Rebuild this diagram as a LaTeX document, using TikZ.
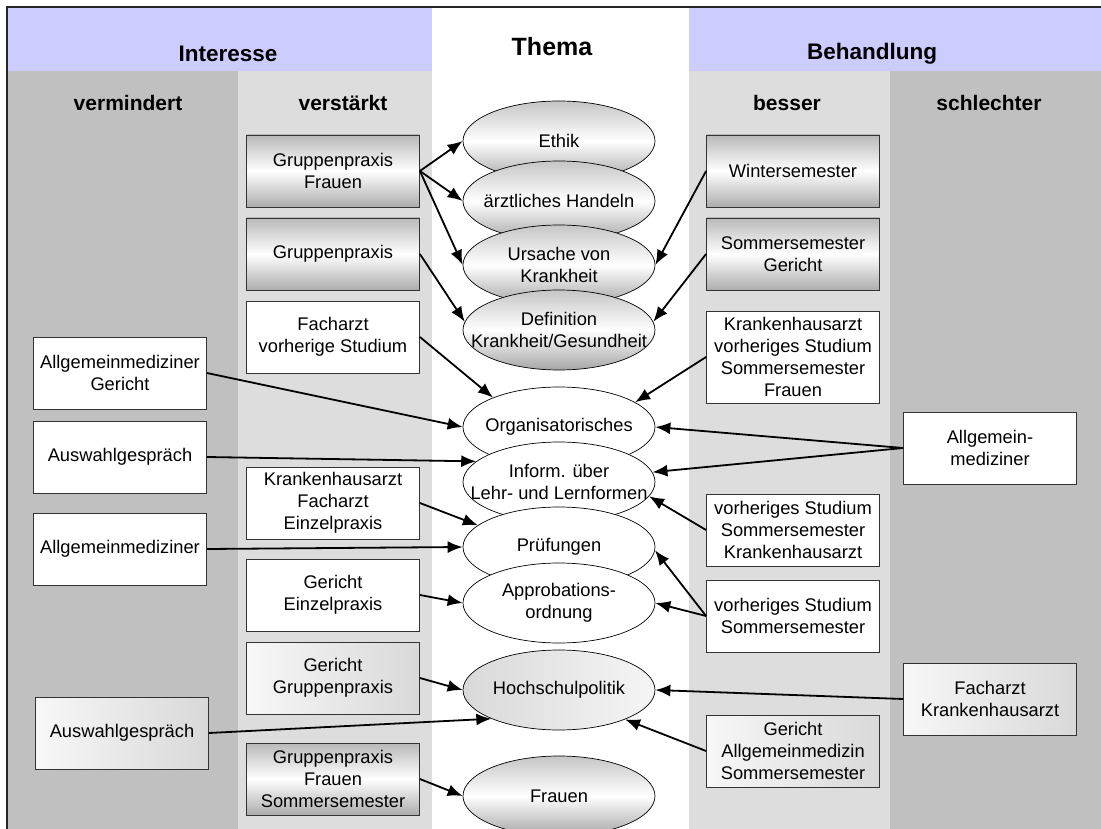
\documentclass[tikz,border=0pt]{standalone}
\usepackage{fontspec}
\setmainfont{Liberation Sans}
\usepackage{tikz}
\usetikzlibrary{arrows.meta}
\usetikzlibrary{shapes.geometric}
\tikzset{>={Latex[length=15pt,width=12pt]}}
\definecolor{band}{HTML}{CCCCFF}
\definecolor{darkcol}{HTML}{C0C0C0}
\definecolor{lightcol}{HTML}{DDDDDD}

\begin{document}
\begin{tikzpicture}[x=1pt, y=-1pt]
            \tikzset{factor/.style={draw=black!80, line width=0.8pt, minimum width=173pt, minimum height=72pt, inner sep=1pt, align=center, font={\fontsize{18.3}{22}\selectfont}}};
            \tikzset{blank/.style={factor, fill=white}};
            \tikzset{shiny/.style={factor, top color=gray!55, bottom color=gray!65, middle color=white}};
            \tikzset{matt/.style={factor, left color=gray!6, right color=gray!30}};
            \tikzset{topic/.style={ellipse, draw, line width=0.7pt, minimum width=192pt, minimum height=80pt, inner sep=0pt, label={[font={\fontsize{18.3}{22}\selectfont}, align=center]center:#1}}};
            \tikzset{tshade/.style={top color=gray!45, bottom color=gray!70, middle color=white}};
            \tikzset{head/.style={font={\bfseries\fontsize{22.5}{27}\selectfont}}};
            \tikzset{sub/.style={font={\bfseries\fontsize{21}{25}\selectfont}}};
            \tikzset{flow/.style={->, line width=1.8pt}};
            \useasboundingbox (0, 0) rectangle (1101, 829);
            % Spalten
            \fill[band] (7, 7) rectangle (432, 71);
            \fill[band] (689, 7) rectangle (1101, 71);
            \fill[darkcol] (7, 71) rectangle (238, 829);
            \fill[lightcol] (238, 71) rectangle (432, 829);
            \fill[lightcol] (689, 71) rectangle (890, 829);
            \fill[darkcol] (890, 71) rectangle (1101, 829);
            \draw[line width=1.6pt, black!85] (1101, 7) -- (7, 7) -- (7, 829);
            \node[head] (interesse) at (228, 54) {Interesse};
            \node[font={\bfseries\fontsize{25}{30}\selectfont}] (thema) at (552, 47) {Thema};
            \node[head] (behandlung) at (872, 54) {Behandlung};
            \node[sub] (vermindert) at (128, 103) {vermindert};
            \node[sub] (verstaerkt) at (343, 103) {verstärkt};
            \node[sub] (besser) at (787, 103) {besser};
            \node[sub] (schlechter) at (989, 103) {schlechter};
            % Themen
            \node[topic=Ethik, tshade] (ethik) at (559, 141) {};
            \node[topic=ärztliches Handeln, tshade] (handeln) at (559, 201) {};
            \node[topic={Ursache von\\Krankheit}, tshade] (ursache) at (559, 265) {};
            \node[topic={Definition\\Krankheit/Gesundheit}, tshade] (definition) at (559, 330) {};
            \node[topic=Organisatorisches, fill=white] (orga) at (559, 427) {};
            \node[topic={Inform. über\\Lehr- und Lernformen}, fill=white] (inform) at (559, 482) {};
            \node[topic=Prüfungen, fill=white] (pruefung) at (559, 547) {};
            \node[topic={Approbations-\\ordnung}, fill=white] (approb) at (559, 603) {};
            \node[topic=Hochschulpolitik, left color=gray!30, right color=gray!8] (politik) at (559, 690) {};
            \node[topic=Frauen, tshade] (frauen) at (559, 796) {};
            % vermindert
            \node[blank] (m1) at (120, 373) {Allgemeinmediziner\\Gericht};
            \node[blank] (m2) at (120, 457) {Auswahlgespräch};
            \node[blank] (m3) at (120, 549) {Allgemeinmediziner};
            \node[matt] (m4) at (122, 733) {Auswahlgespräch};
            % verstaerkt
            \node[shiny] (v1) at (333, 171) {Gruppenpraxis\\Frauen};
            \node[shiny] (v2) at (333, 254) {Gruppenpraxis};
            \node[blank] (v3) at (333, 337) {Facharzt\\vorherige Studium};
            \node[blank] (v4) at (333, 503) {Krankenhausarzt\\Facharzt\\Einzelpraxis};
            \node[blank] (v5) at (333, 595) {Gericht\\Einzelpraxis};
            \node[matt] (v6) at (333, 678) {Gericht\\Gruppenpraxis};
            \node[shiny] (v7) at (333, 779) {Gruppenpraxis\\Frauen\\Sommersemester};
            % besser
            \node[shiny] (b1) at (793, 171) {Wintersemester};
            \node[shiny] (b2) at (793, 254) {Sommersemester\\Gericht};
            \node[blank, minimum height=92pt] (b3) at (793, 357) {Krankenhausarzt\\vorheriges Studium\\Sommersemester\\Frauen};
            \node[blank] (b4) at (793, 530) {vorheriges Studium\\Sommersemester\\Krankenhausarzt};
            \node[blank] (b5) at (793, 616) {vorheriges Studium\\Sommersemester};
            \node[matt] (b6) at (793, 751) {Gericht\\Allgemeinmedizin\\Sommersemester};
            % schlechter
            \node[blank] (s1) at (990, 448) {Allgemein-\\mediziner};
            \node[matt] (s2) at (990, 699) {Facharzt\\Krankenhausarzt};
            % Pfeile links
            \draw[flow] (v1.east) -- (ethik.west);
            \draw[flow] (v1.east) -- (handeln.west);
            \draw[flow] (v1.east) -- (ursache.west);
            \draw[flow] (v2.east) -- (definition.175);
            \draw[flow] (v3.east) -- (orga.156);
            \draw[flow] (m1.east) -- (orga.west);
            \draw[flow] (m2.east) -- (inform.166);
            \draw[flow] (v4.east) -- (pruefung.165);
            \draw[flow] (m3.east) -- (pruefung.west);
            \draw[flow] (v5.east) -- (approb.west);
            \draw[flow] (v6.east) -- (politik.west);
            \draw[flow] (m4.east) -- (politik.203);
            \draw[flow] (v7.east) -- (frauen.west);
            % Pfeile rechts
            \draw[flow] (b1.west) -- (ursache.east);
            \draw[flow] (b2.west) -- (definition.5);
            \draw[flow] (b3.west) -- (orga.18);
            \draw[flow] (s1.west) -- (orga.east);
            \draw[flow] (s1.west) -- (inform.6);
            \draw[flow] (b4.west) -- (inform.-9);
            \draw[flow] (b5.west) -- (pruefung.-2);
            \draw[flow] (b5.west) -- (approb.east);
            \draw[flow] (s2.west) -- (politik.east);
            \draw[flow] (b6.west) -- (politik.-24);
\end{tikzpicture}
\end{document}
